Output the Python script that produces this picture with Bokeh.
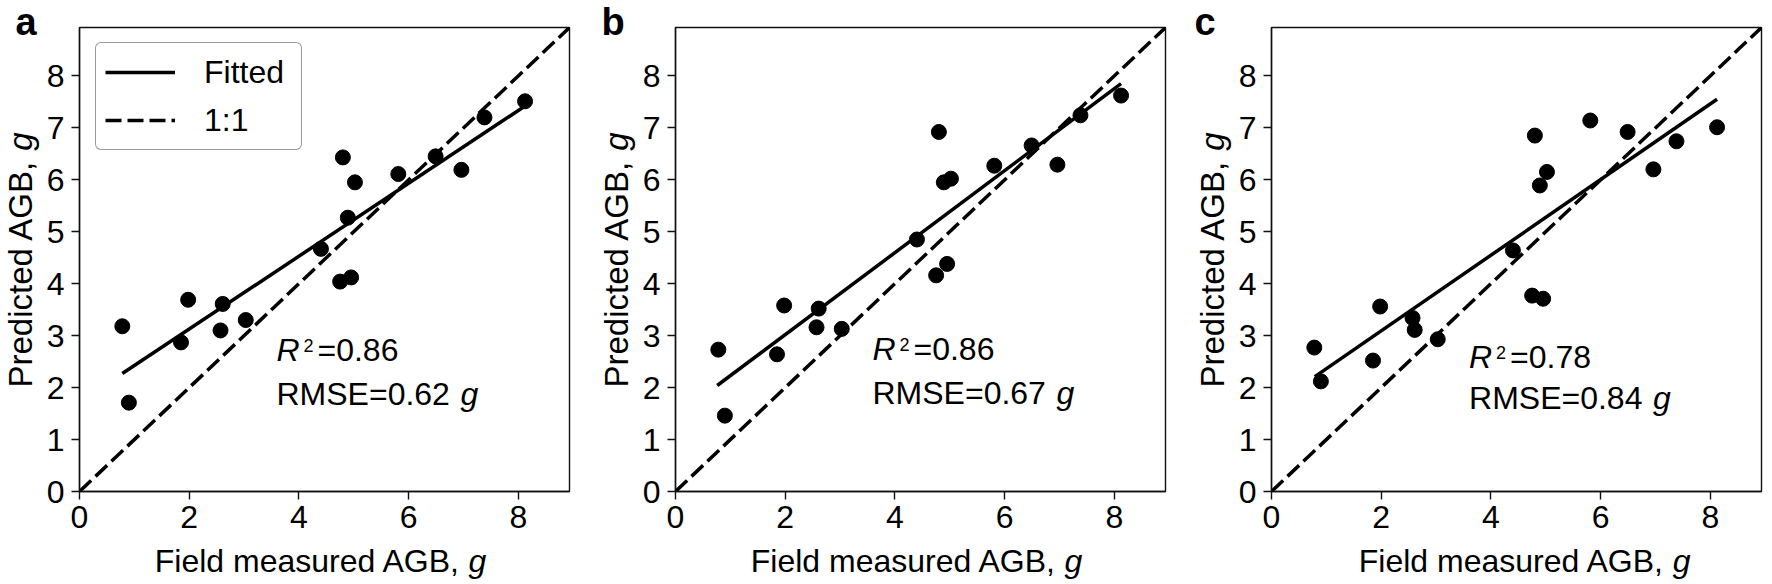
import math
from bokeh.plotting import figure
from bokeh.models import Range1d, FixedTicker, Label, Legend, LegendItem
from bokeh.layouts import row, column
from bokeh.embed import file_html
from bokeh.resources import INLINE
from bokeh.core.properties import value

# ---------------- data ----------------
field_agb = [0.78, 0.90, 1.85, 1.98, 2.57, 2.61, 3.03, 4.40, 4.75, 4.80,
             4.89, 4.95, 5.02, 5.81, 6.49, 6.96, 7.38, 8.12]
pred_a = [3.18, 1.71, 2.87, 3.69, 3.10, 3.61, 3.30, 4.67, 4.04, 6.43,
          5.27, 4.12, 5.95, 6.11, 6.45, 6.19, 7.20, 7.51]
pred_b = [2.73, 1.46, 2.64, 3.58, 3.16, 3.52, 3.13, 4.85, 4.16, 6.92,
          5.95, 4.38, 6.02, 6.27, 6.66, 6.29, 7.24, 7.62]
pred_c = [2.77, 2.12, 2.52, 3.56, 3.34, 3.11, 2.93, 4.64, 3.77, 6.85,
          5.89, 3.71, 6.15, 7.14, 6.92, 6.20, 6.74, 7.01]

fit_x_a = [0.78, 8.12]
fit_y_a = [2.27, 7.42]
fit_x_b = [0.76, 8.12]
fit_y_b = [2.04, 7.85]
fit_x_c = [0.79, 8.12]
fit_y_c = [2.21, 7.55]

one_to_one = [0.0, 8.93]
axis_max = 8.93
x_ticks = [0, 2, 4, 6, 8]
y_ticks = [0, 1, 2, 3, 4, 5, 6, 7, 8]

panel_letters = ["a", "b", "c"]
r2_values = ["0.86", "0.86", "0.78"]
rmse_values = ["0.62", "0.67", "0.84"]
text_x = [3.59, 3.59, 3.60]
r2_text_y = [2.50, 2.52, 2.38]
rmse_text_y = [1.67, 1.69, 1.59]

x_label = "Field measured AGB,"
y_label = "Predicted AGB,"
unit_label = "g"
legend_labels = ["Fitted", "1:1"]

FONT = "Liberation Sans"
TOTAL_H = 583
FIG_H = 543
BORDER_TOP = 27
BORDER_BOTTOM = 52
BORDER_LEFT = 39
STRIP_W = 40
BASE_SHIFT = 0.347  # em fraction: the svg text anchor sits this far above the baseline


def text_strip(width, height):
    s = figure(width=width, height=height,
               x_range=Range1d(0, width), y_range=Range1d(0, height),
               x_axis_type=None, y_axis_type=None,
               output_backend="svg", toolbar_location=None, min_border=0)
    s.outline_line_color = None
    s.background_fill_color = "white"
    s.border_fill_color = "white"
    return s


def put_text(s, x, y, text, size=32, style="normal", align="left", angle=0.0):
    s.text(x=[x], y=[y], text=[text], text_font=value(FONT),
           text_font_size=value(f"{size}px"), text_font_style=style,
           text_align=align, text_baseline="alphabetic",
           text_color="black", angle=angle)


def make_panel(idx, pred, fx, fy, width, br, with_legend):
    p = figure(width=width, height=FIG_H,
               x_range=Range1d(0, axis_max), y_range=Range1d(0, axis_max),
               output_backend="svg", toolbar_location=None,
               min_border_left=BORDER_LEFT, min_border_right=br,
               min_border_top=BORDER_TOP, min_border_bottom=BORDER_BOTTOM)
    p.grid.visible = False
    p.background_fill_color = "white"
    p.border_fill_color = "white"
    p.outline_line_color = "#111111"
    p.outline_line_width = 1.4
    for ax, ticks in ((p.xaxis, x_ticks), (p.yaxis, y_ticks)):
        ax.ticker = FixedTicker(ticks=ticks)
        ax.axis_line_color = "#111111"
        ax.axis_line_width = 1.4
        ax.major_tick_line_color = "#111111"
        ax.major_tick_line_width = 1.4
        ax.major_tick_in = 0
        ax.major_tick_out = 8
        ax.minor_tick_line_color = None
        ax.major_label_text_font = FONT
        ax.major_label_text_font_size = "32px"
        ax.major_label_text_color = "black"
    p.xaxis.major_label_standoff = 6
    p.yaxis.major_label_standoff = 7

    r11 = p.line(one_to_one, one_to_one, line_color="black", line_width=3.5,
                 line_dash="16 6")
    rfit = p.line(fx, fy, line_color="black", line_width=3.5)
    p.scatter(field_agb, pred, size=15, fill_color="black", line_color="black")

    if with_legend:
        leg = Legend(items=[LegendItem(label=legend_labels[0], renderers=[rfit]),
                            LegendItem(label=legend_labels[1], renderers=[r11])],
                     location=(16, 341), orientation="vertical",
                     label_text_font=FONT, label_text_font_size="32px",
                     label_text_color="black",
                     glyph_width=70, glyph_height=40, label_height=40,
                     label_width=88,
                     spacing=8, padding=9, label_standoff=29, margin=0,
                     border_line_color="#333333", border_line_width=1.5,
                     background_fill_color="white", background_fill_alpha=1.0)
        if "border_radius" in Legend.properties():
            leg.border_radius = 6
        p.add_layout(leg)

    def lab(text, x, y, size=32, style="normal", x_offset=0, lift=0.0):
        p.add_layout(Label(text=text, x=x, y=y, x_units="data", y_units="data",
                           text_font=FONT, text_font_size=f"{size}px",
                           text_font_style=style, text_align="left",
                           text_baseline="alphabetic", text_color="black",
                           x_offset=x_offset, y_offset=lift + BASE_SHIFT * size))

    tx = text_x[idx]
    lab("R", tx, r2_text_y[idx], style="italic")
    lab("2", tx, r2_text_y[idx], size=18, x_offset=27, lift=9.5)
    lab("=" + r2_values[idx], tx, r2_text_y[idx], x_offset=41)
    lab("RMSE=" + rmse_values[idx], tx, rmse_text_y[idx])
    lab(unit_label, tx, rmse_text_y[idx], style="italic", x_offset=184)

    # strip below: x axis title (baseline at y=572 on the page)
    xs = text_strip(width, TOTAL_H - FIG_H)
    base = (TOTAL_H - 572) + BASE_SHIFT * 32
    comma_end = BORDER_LEFT + 245 - 175.2 + 323.7
    put_text(xs, comma_end, base, x_label, align="right")
    put_text(xs, comma_end + 8.9, base, unit_label, style="italic")

    # strip at left: panel letter and y axis title
    ys = text_strip(STRIP_W, TOTAL_H)
    letter_x = [15, 5, 2][idx]
    put_text(ys, letter_x, TOTAL_H - 35 + BASE_SHIFT * 38, panel_letters[idx],
             size=38, style="bold")
    yc = TOTAL_H - 259.5
    fs = 33
    w1 = 6.892 * fs
    wsp = 0.278 * fs
    wg = 0.556 * fs
    total = w1 + wsp + wg
    y_start = yc - total / 2
    bx = 31 - BASE_SHIFT * fs
    put_text(ys, bx, y_start + w1, y_label, size=fs, align="right", angle=math.pi / 2)
    put_text(ys, bx, y_start + w1 + wsp, unit_label, size=fs, style="italic",
             angle=math.pi / 2)
    return ys, column(p, xs)


ya, ca = make_panel(0, pred_a, fit_x_a, fit_y_a, 556, 27, True)
yb, cb = make_panel(1, pred_b, fit_x_b, fit_y_b, 556, 27, False)
yc_, cc = make_panel(2, pred_c, fit_x_c, fit_y_c, 539, 10, False)

layout = row(ya, ca, yb, cb, yc_, cc)
open("out.html", "w").write(file_html(layout, INLINE))
